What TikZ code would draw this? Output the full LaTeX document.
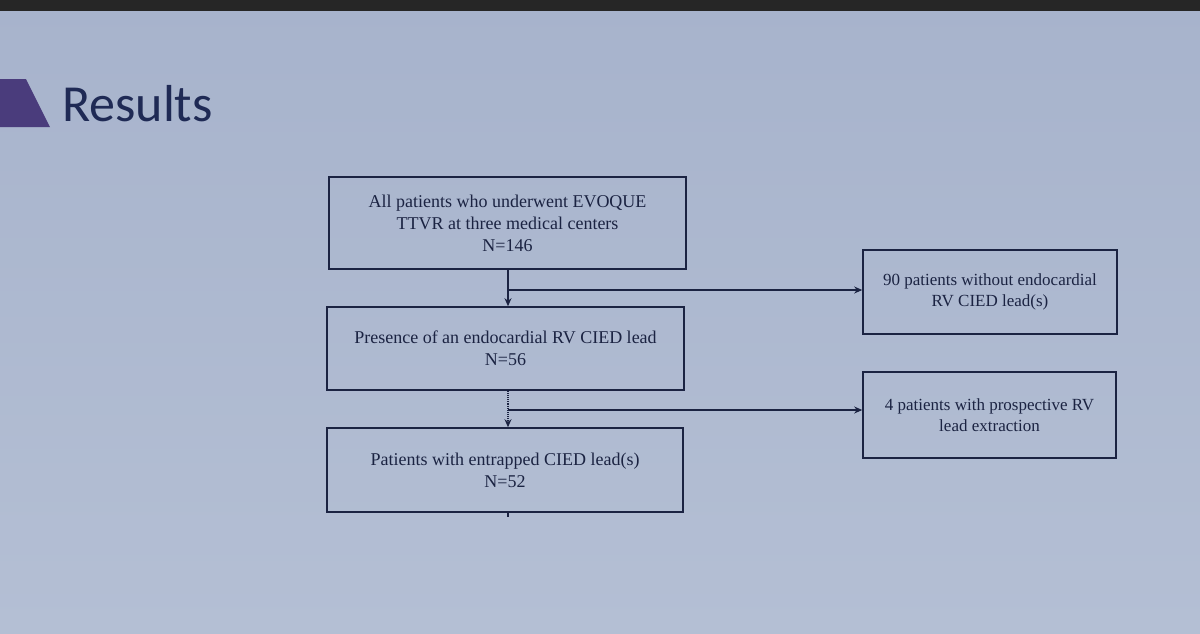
\documentclass[tikz,border=0pt]{standalone}
\usepackage{fontspec}
\setmainfont{Liberation Serif}
\newfontfamily\titlefont{Carlito}
\usetikzlibrary{arrows.meta,positioning}
\definecolor{bgtop}{HTML}{A7B3CC}
\definecolor{bgbot}{HTML}{B4BFD4}
\definecolor{ink}{HTML}{1B2342}
\definecolor{titleink}{HTML}{1F2A55}
\definecolor{purp}{HTML}{4A3C7C}
\begin{document}
\begin{tikzpicture}[x=1pt,y=-1pt,
  box/.style={draw=ink,line width=1.6pt,inner sep=0pt,align=center,text=ink,
    font=\fontsize{18}{22}\selectfont},
  sidebox/.style={box,font=\fontsize{17}{21}\selectfont},
  conn/.style={draw=ink,line width=1.1pt},
  arr/.style={conn,-{Stealth[length=8pt,width=7pt]}}]
\useasboundingbox (0,0) rectangle (1200,633);
\shade[top color=bgtop,bottom color=bgbot] (0,0) rectangle (1200,633);
\fill[black!85] (0,0) rectangle (1200,11);
\fill[purp] (0,79) -- (26,79) -- (50,127) -- (0,127) -- cycle;
\node[anchor=base west,inner sep=0pt,text=titleink,font=\titlefont\fontsize{52}{52}\selectfont] (title) at (62,121) {Results};
% boxes
\node[box,minimum width=357pt,minimum height=92pt] (b1) at (507.5,223) {All patients who underwent EVOQUE\\TTVR at three medical centers\\N=146};
\node[box,minimum width=357pt,minimum height=83pt] (b2) at (505.5,348.5) {Presence of an endocardial RV CIED lead\\N=56};
\node[box,minimum width=356pt,minimum height=84pt] (b3) at (505,470) {Patients with entrapped CIED lead(s)\\N=52};
\node[sidebox,minimum width=254pt,minimum height=84pt] (r1) at (990,292) {90 patients without endocardial\\RV CIED lead(s)};
\node[sidebox,minimum width=253pt,minimum height=86pt] (r2) at (989.5,415) {4 patients with prospective RV\\lead extraction};
% connectors
\coordinate (j1) at (508,290);
\coordinate (j2) at (508,410);
\draw[arr] (b1.south -| j1) -- (b2.north -| j1);
\draw[arr] (j1) -- (r1.west |- j1);
\draw[arr,densely dotted] (b2.south -| j2) -- (b3.north -| j2);
\draw[arr] (j2) -- (r2.west |- j2);
\coordinate (t3) at (508,517);
\draw[conn] (b3.south -| t3) -- (t3);
\end{tikzpicture}
\end{document}
